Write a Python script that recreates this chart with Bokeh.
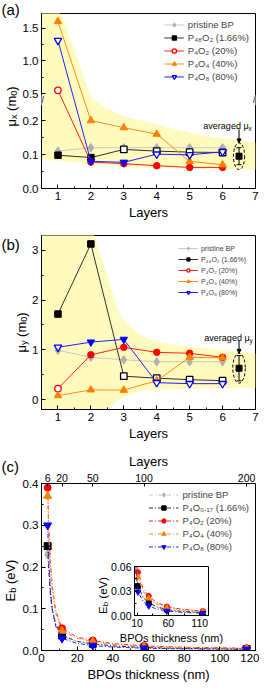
import math
from bokeh.plotting import figure
from bokeh.layouts import column
from bokeh.models import (ColumnDataSource, FixedTicker, Label, Legend, LegendItem,
                          Whisker, TeeHead, Arrow, NormalHead, LinearAxis, NumeralTickFormatter)
from bokeh.embed import file_html
from bokeh.resources import INLINE

FONT = "Liberation Sans"

# ---------------- data: panels (a) and (b) ----------------
layers = [1, 2, 3, 4, 5, 6]
x_ticks = [1, 2, 3, 4, 5, 6, 7]

mux_pristine = [0.11, 0.12, 0.12, 0.12, 0.12, 0.12]
mux_p48o2 = [0.098, 0.091, 0.115, 0.110, 0.107, 0.106]
mux_p4o2 = [0.55, 0.078, 0.073, 0.067, 0.062, 0.062]
mux_p4o4 = [1.60, 0.200, 0.179, 0.160, 0.080, 0.070]
mux_p4o8 = [1.31, 0.080, 0.077, 0.101, 0.099, 0.108]

muy_pristine = [0.99, 0.85, 0.80, 0.76, 0.76, 0.76]
muy_p48o2 = [1.72, 3.13, 0.47, 0.43, 0.40, 0.38]
muy_p4o2 = [0.22, 0.90, 1.05, 0.95, 0.93, 0.85]
muy_p4o4 = [0.08, 0.195, 0.19, 0.38, 0.85, 0.84]
muy_p4o8 = [1.05, 1.155, 1.21, 0.34, 0.32, 0.32]

# layers drawn with open symbols
open_pristine = []
open_p48o2 = [3, 4, 5, 6]
open_p4o2 = [1]
open_p4o4 = []
open_p4o8 = [1, 4, 5, 6]

avg_layer = 6.5
avg_mux, avg_mux_err = 0.095, 0.025
avg_muy, avg_muy_err = 0.63, 0.255

# shaded (yellow) range
band_a_x = [0.5, 1.12, 1.95, 2.1, 2.5, 3.0, 4, 5, 6, 7]
band_a_hi = [1.95, 1.70, 0.51, 0.40, 0.235, 0.213, 0.188, 0.164, 0.147, 0.135]
band_a_lo = [0.085, 0.081, 0.072, 0.071, 0.068, 0.064, 0.060, 0.058, 0.056, 0.055]

band_b_x = [0.5, 2.1, 2.45, 2.9, 3.3, 3.5, 4, 5, 6, 7]
band_b_hi = [4.2, 3.31, 2.58, 1.65, 1.42, 1.30, 1.16, 1.06, 0.99, 0.93]
band_b_lo = [-1.2, -0.45, -0.21, 0.02, 0.13, 0.17, 0.19, 0.215, 0.225, 0.235]

ya_major = [0.0, 0.1, 0.2, 0.5, 1.0, 1.5]
ya_labels = ["0.0", "0.1", "0.2", "0.5", "1.0", "1.5"]
ya_minor = [0.05, 0.15, 0.25, 0.75, 1.25]

# ---------------- data: panel (c) ----------------
layers_c = [6, 20, 50, 100, 200]
thick_c = [3.45, 11.5, 28.75, 57.5, 115.0]
eb_pristine = [0.23, 0.033, 0.015, 0.0068, 0.0034]
eb_p4o017 = [0.25, 0.036, 0.016, 0.0072, 0.0036]
eb_p4o2 = [0.39, 0.053, 0.024, 0.011, 0.0055]
eb_p4o4 = [0.37, 0.047, 0.021, 0.0095, 0.0048]
eb_p4o8 = [0.30, 0.029, 0.012, 0.0055, 0.0028]

fit_x = [3.45, 4, 5, 6, 8, 11.5, 20, 28.75, 40, 57.5, 80, 115]
fit_pristine = [0.23, 0.185, 0.125, 0.093, 0.059, 0.033, 0.021, 0.015, 0.0103, 0.0068, 0.0048, 0.0034]
fit_p4o017 = [0.25, 0.20, 0.135, 0.10, 0.063, 0.036, 0.022, 0.016, 0.011, 0.0072, 0.0051, 0.0036]
fit_p4o2 = [0.39, 0.31, 0.21, 0.155, 0.095, 0.053, 0.032, 0.024, 0.0165, 0.011, 0.0078, 0.0055]
fit_p4o4 = [0.37, 0.29, 0.195, 0.145, 0.088, 0.047, 0.029, 0.021, 0.0145, 0.0095, 0.0068, 0.0048]
fit_p4o8 = [0.30, 0.225, 0.145, 0.10, 0.058, 0.029, 0.017, 0.012, 0.0082, 0.0055, 0.0039, 0.0028]

# ---------------- styles ----------------
BAND = "#FFFBBE"
SER = [
    dict(label="pristine BP", mk="diamond", color="#B0B0B0", line="#C8C8C8", size=8.5),
    dict(label="P\u2084\u2088O\u2082 (1.66%)", mk="square", color="#000000", line="#303030", size=6.5),
    dict(label="P\u2084O\u2082 (20%)", mk="circle", color="#FF0000", line="#FF2020", size=6.5),
    dict(label="P\u2084O\u2084 (40%)", mk="triangle", color="#FF7F00", line="#FF8C1A", size=7.5),
    dict(label="P\u2084O\u2088 (80%)", mk="inverted_triangle", color="#0000FF", line="#2020FF", size=7.5),
]
LABELS_C = ["pristine BP", "P\u2084O\u2080.\u2081\u2087 (1.66%)", "P\u2084O\u2082 (20%)",
            "P\u2084O\u2084 (40%)", "P\u2084O\u2088 (80%)"]
LEG_OPEN = [False, False, True, False, True]

W = 259
BRK_LO, BRK_HI, BRK_F = 0.26, 0.40, 0.193


def disp(v):
    if v <= BRK_LO:
        return v
    if v >= BRK_HI:
        return BRK_LO + (v - BRK_HI) * BRK_F
    return BRK_LO


CW = {'μ': 0.576, 'x': 0.5, 'y': 0.5, ' ': 0.278, '(': 0.333, ')': 0.333, 'm': 0.833,
      '0': 0.556, 'E': 0.667, 'b': 0.556, 'e': 0.556, 'V': 0.667, 'a': 0.556, 'v': 0.5,
      'r': 0.333, 'g': 0.556, 'd': 0.556}


def _pieces(parts, size):
    sub = size * 0.7
    out = []
    for t, s in parts:
        fs = sub if s else size
        lead = len(t) - len(t.lstrip(" "))
        w = sum(CW.get(c, 0.556) for c in t) * fs
        out.append((t.lstrip(" "), fs, lead * CW[' '] * fs, w, size * 0.22 if s else 0.0))
    return out


def rich(p, parts, x, y, size, dx=0.0, dy=0.0):
    """Horizontal text with subscripts, anchored at data (x, y) with pixel offsets."""
    pcs = _pieces(parts, size)
    pos = -sum(pc[3] for pc in pcs) / 2.0
    for txt, fs, shift, w, drop in pcs:
        p.add_layout(Label(x=x, y=y, x_offset=dx + pos + shift, y_offset=dy - drop, text=txt,
                           text_font=FONT, text_font_size="%.1fpx" % fs,
                           text_color="black", text_align="left", text_baseline="alphabetic"))
        pos += w


def rich_rot(p, parts, bx, cy, size):
    """Vertical (bottom-to-top) text with subscripts; p's data units are pixels."""
    pcs = _pieces(parts, size)
    pos = cy - sum(pc[3] for pc in pcs) / 2.0
    for txt, fs, shift, w, drop in pcs:
        p.add_layout(Label(x=bx + drop, y=pos + shift, text=txt, angle=math.pi / 2,
                           text_font=FONT, text_font_size="%.1fpx" % fs,
                           text_color="black", text_align="left", text_baseline="alphabetic"))
        pos += w


def style_axis(ax, tick_size="11.5px", label_size="13px"):
    ax.major_tick_in = 4
    ax.major_tick_out = 0
    ax.minor_tick_in = 2
    ax.minor_tick_out = 0
    ax.axis_line_color = "black"
    ax.major_tick_line_color = "black"
    ax.minor_tick_line_color = "black"
    ax.major_label_text_font = FONT
    ax.major_label_text_font_size = tick_size
    ax.major_label_text_color = "black"
    ax.axis_label_text_font = FONT
    ax.axis_label_text_font_size = label_size
    ax.axis_label_text_font_style = "normal"
    ax.axis_label_text_color = "black"
    ax.major_label_standoff = 3
    ax.axis_label_standoff = 2


def mkfig(h, ft, fb, xr, yr, w=W, fl=41, fr=4, **kw):
    p = figure(width=w, height=h, x_range=xr, y_range=yr, output_backend="svg",
               toolbar_location=None, min_border_left=fl, min_border_right=fr,
               min_border_top=ft, min_border_bottom=fb, **kw)
    p.xgrid.visible = False
    p.ygrid.visible = False
    p.outline_line_color = "black"
    p.outline_line_alpha = 1.0
    p.outline_line_width = 1
    p.background_fill_color = "white"
    p.border_fill_color = "white"
    for ax in p.axis:
        style_axis(ax)
    return p


def draw_layers(p, values, opens, tf):
    items = []
    for st, ys, op, lo in zip(SER, values, opens, LEG_OPEN):
        yd = [tf(v) for v in ys]
        ln = p.line(layers, yd, line_color=st["line"], line_width=1)
        fsrc = ColumnDataSource(dict(x=[l for l in layers if l not in op],
                                     y=[y for l, y in zip(layers, yd) if l not in op]))
        osrc = ColumnDataSource(dict(x=[l for l in layers if l in op],
                                     y=[y for l, y in zip(layers, yd) if l in op]))
        rf = p.scatter("x", "y", source=fsrc, marker=st["mk"], size=st["size"],
                       fill_color=st["color"], line_color=st["color"], line_width=1)
        ro = p.scatter("x", "y", source=osrc, marker=st["mk"], size=st["size"],
                       fill_color="white", line_color=st["color"], line_width=1.3)
        items.append(LegendItem(label=st["label"], renderers=[ln, ro if lo else rf]))
    return items


def average_mark(p, avg, err, tf, ew, eh, arrow_len, parts, dx, dy):
    src = ColumnDataSource(dict(x=[avg_layer], lo=[tf(avg - err)], hi=[tf(avg + err)]))
    p.add_layout(Whisker(source=src, base="x", lower="lo", upper="hi", dimension="height",
                         line_color="black", line_width=1, level="overlay",
                         upper_head=TeeHead(size=5, line_color="black", line_width=1),
                         lower_head=TeeHead(size=5, line_color="black", line_width=1)))
    p.scatter([avg_layer], [tf(avg)], marker="square", size=6, color="black")
    p.ellipse(x=[avg_layer], y=[tf(avg)], width=ew, height=eh, fill_color=None,
              line_color="black", line_dash="3 2", line_width=1)
    top = tf(avg) + eh / 2.0
    p.add_layout(Arrow(x_start=avg_layer, y_start=top + arrow_len, x_end=avg_layer, y_end=top,
                       line_color="black", line_width=1,
                       end=NormalHead(size=4, fill_color="black", line_color="black")))
    rich(p, parts, avg_layer, top + arrow_len, 9, dx=dx, dy=dy)


# ---------------- panel (a) ----------------
FA_H, FA_T, FA_B = 228, 13, 40
pa = mkfig(FA_H, FA_T, FA_B, (0.5, 7), (0, 0.515))
pa.xaxis.axis_label = "Layers"
pa.xaxis.ticker = FixedTicker(ticks=x_ticks, minor_ticks=[t - 0.5 for t in x_ticks])
ya_t = [round(disp(v), 6) for v in ya_major]
pa.yaxis.ticker = FixedTicker(ticks=ya_t, minor_ticks=[round(disp(v), 6) for v in ya_minor])
ov = {}
for t, s in zip(ya_t, ya_labels):
    ov[t] = s
    ov[repr(t) if t != int(t) else str(int(t))] = s
pa.yaxis.major_label_overrides = ov

pa.varea(x=band_a_x, y1=[disp(v) for v in band_a_lo], y2=[disp(v) for v in band_a_hi],
         fill_color=BAND)
items_a = draw_layers(pa, [mux_pristine, mux_p48o2, mux_p4o2, mux_p4o4, mux_p4o8],
                      [open_pristine, open_p48o2, open_p4o2, open_p4o4, open_p4o8], disp)
average_mark(pa, avg_mux, avg_mux_err, disp, 0.34, 0.0785, 0.04,
             [("averaged μ", 0), ("x", 1)], -11.5, 3)
leg_a = Legend(items=items_a, location="top_right", margin=3, padding=3, spacing=2,
               glyph_width=20, glyph_height=11, label_height=11, label_standoff=4,
               label_text_font=FONT, label_text_font_size="9.5px",
               border_line_alpha=0, background_fill_alpha=0)
pa.add_layout(leg_a)
for xe in (0.5, 7.0):
    pa.add_layout(Label(x=xe, y=BRK_LO, text="//",
                        text_font=FONT, text_font_size="9px", text_align="center",
                        text_baseline="middle", background_fill_color="white",
                        text_color="black"))

# ---------------- panel (b) ----------------
FB_H, FB_T, FB_B = 221, 7, 40
pb = mkfig(FB_H, FB_T, FB_B, (0.5, 7), (-0.2, 3.3))
pb.xaxis.axis_label = "Layers"
pb.xaxis.ticker = FixedTicker(ticks=x_ticks, minor_ticks=[t - 0.5 for t in x_ticks])
pb.yaxis.ticker = FixedTicker(ticks=[0, 1, 2, 3], minor_ticks=[0.5, 1.5, 2.5])
pb.varea(x=band_b_x, y1=band_b_lo, y2=band_b_hi, fill_color=BAND)
ident = lambda v: v
items_b = draw_layers(pb, [muy_pristine, muy_p48o2, muy_p4o2, muy_p4o4, muy_p4o8],
                      [open_pristine, open_p48o2, open_p4o2, open_p4o4, open_p4o8], ident)
average_mark(pb, avg_muy, avg_muy_err, ident, 0.38, 0.60, 0.26,
             [("averaged μ", 0), ("y", 1)], -10.5, 2)
leg_b = Legend(items=items_b, location="top_right", margin=6, padding=3, spacing=3,
               glyph_width=20, glyph_height=8, label_height=8, label_standoff=3,
               label_text_font=FONT, label_text_font_size="7px",
               border_line_alpha=0, background_fill_alpha=0)
pb.add_layout(leg_b)

# ---------------- panel (c) ----------------
FC_H, FC_T, FC_B = 235, 34, 31
pc = mkfig(FC_H, FC_T, FC_B, (0, 120), (0, 0.4))
pc.xaxis.axis_label = "BPOs thickness (nm)"
pc.xaxis.ticker = FixedTicker(ticks=[0, 20, 40, 60, 80, 100, 120],
                              minor_ticks=[10, 30, 50, 70, 90, 110])
pc.yaxis.ticker = FixedTicker(ticks=[0, 0.1, 0.2, 0.3, 0.4], minor_ticks=[0.05, 0.15, 0.25, 0.35])
pc.yaxis.formatter = NumeralTickFormatter(format="0.0")
ov_c = {}
for t, l in zip(thick_c, layers_c):
    ov_c[t] = str(l)
    ov_c[str(int(t)) if t == int(t) else repr(t)] = str(l)
top_ax = LinearAxis(ticker=FixedTicker(ticks=thick_c), axis_label="Layers",
                    major_label_overrides=ov_c)
style_axis(top_ax, tick_size="10.5px")
top_ax.major_tick_in = 3
top_ax.major_label_standoff = 2
pc.add_layout(top_ax, "above")

eb_all = [eb_pristine, eb_p4o017, eb_p4o2, eb_p4o4, eb_p4o8]
fit_all = [fit_pristine, fit_p4o017, fit_p4o2, fit_p4o4, fit_p4o8]
DASH = "4 2 1 2"
items_c = []
for st, lab, eb, ft in zip(SER, LABELS_C, eb_all, fit_all):
    ln = pc.line(fit_x, ft, line_color=st["line"], line_width=1, line_dash=DASH)
    sc = pc.scatter(thick_c, eb, marker=st["mk"], size=st["size"] + 0.5,
                    fill_color=st["color"], line_color=st["color"])
    items_c.append(LegendItem(label=lab, renderers=[ln, sc]))
leg_c = Legend(items=items_c, location="top_right", margin=3, padding=3, spacing=2,
               glyph_width=30, glyph_height=11, label_height=11, label_standoff=4,
               label_text_font=FONT, label_text_font_size="9.5px",
               border_line_alpha=0, background_fill_alpha=0)
pc.add_layout(leg_c)

main = column(pa, pb, pc)
FLOW_ABC = FA_H + FB_H + FC_H

# ---------------- inset of (c): separate root, pulled up over panel (c) ----------------
IN_W, IN_H, IN_L, IN_R, IN_T, IN_B = 140, 89, 42, 24, 9, 28
IN_TOP = 565
pi_ = mkfig(IN_H, IN_T, IN_B, (6, 124), (0, 0.06), w=IN_W, fl=IN_L, fr=IN_R,
            margin=(IN_TOP - 8 - FLOW_ABC, 0, 0, 92))
pi_.border_fill_alpha = 0
for ax in pi_.axis:
    style_axis(ax, tick_size="10.5px", label_size="11px")
    ax.major_tick_in = 3
pi_.xaxis.axis_label = "BPOs thickness (nm)"
pi_.xaxis.ticker = FixedTicker(ticks=[10, 60, 110], minor_ticks=[35, 85])
pi_.yaxis.ticker = FixedTicker(ticks=[0, 0.03, 0.06], minor_ticks=[0.015, 0.045])
pi_.yaxis.formatter = NumeralTickFormatter(format="0.00")
for st, eb, ft in zip(SER, eb_all, fit_all):
    pi_.line(fit_x, ft, line_color=st["line"], line_width=1, line_dash=DASH)
    pi_.scatter(thick_c, eb, marker=st["mk"], size=st["size"] - 1.5,
                fill_color=st["color"], line_color=st["color"])

# ---------------- transparent overlay (separate root) for texts outside the frames ----------
# overlay data units are page pixels: x = page_x - 8, y = (684 + 8) - page_y
H_TOT = FLOW_ABC
po = figure(width=W, height=H_TOT, x_range=(0, W), y_range=(0, H_TOT),
            output_backend="svg", toolbar_location=None,
            x_axis_location=None, y_axis_location=None,
            min_border_left=0, min_border_right=0, min_border_top=0, min_border_bottom=0,
            margin=(8 - (IN_TOP + IN_H), 0, 0, 0))
po.xgrid.visible = False
po.ygrid.visible = False
po.outline_line_color = None
po.background_fill_alpha = 0
po.border_fill_alpha = 0


def px(page_x):
    return page_x - 8


def py(page_y):
    return H_TOT + 8 - page_y


for txt, cy in (("(a)", 17.0), ("(b)", 251.5), ("(c)", 473.5)):
    po.add_layout(Label(x=px(9), y=py(cy), text=txt, text_font=FONT, text_font_size="15px",
                        text_align="left", text_baseline="middle", text_color="black"))
rich_rot(po, [("μ", 0), ("x", 1), (" (m", 0), ("0", 1), (")", 0)], px(19), py(114), 13)
rich_rot(po, [("μ", 0), ("y", 1), (" (m", 0), ("0", 1), (")", 0)], px(29), py(340), 13)
rich_rot(po, [("E", 0), ("b", 1), (" (eV)", 0)], px(18), py(588), 13)
rich_rot(po, [("E", 0), ("b", 1), (" (eV)", 0)], px(110.5), py(603), 11.5)

open("out.html", "w").write(file_html([main, pi_, po], INLINE))
